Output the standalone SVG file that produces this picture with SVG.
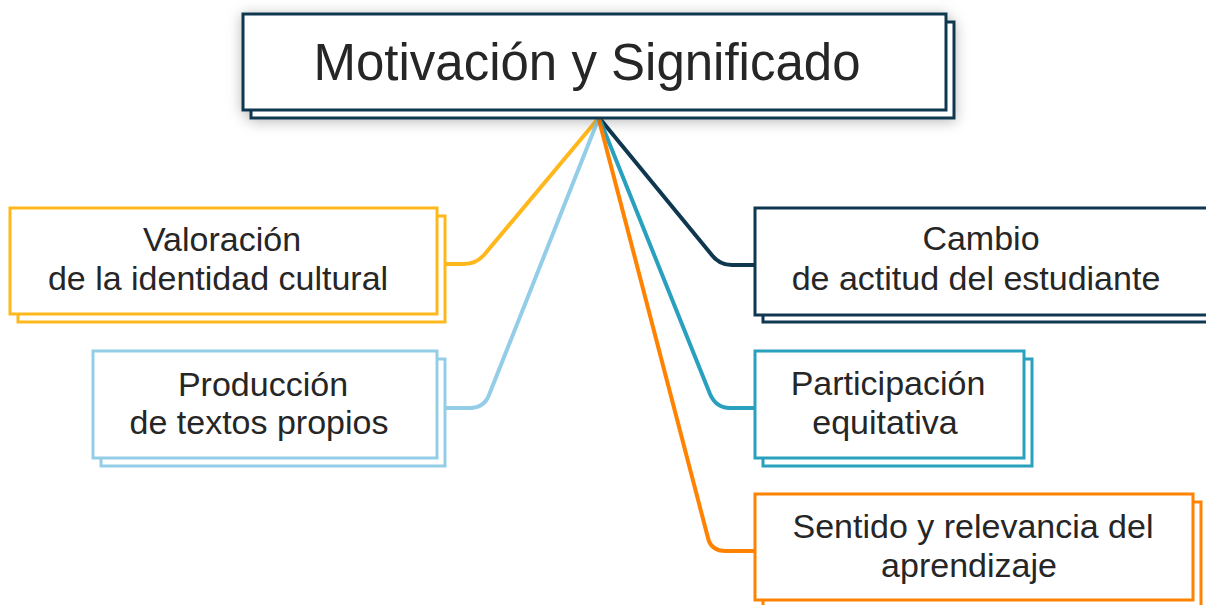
<svg xmlns="http://www.w3.org/2000/svg" width="1206" height="605" viewBox="0 0 1206 605">
<defs>
<filter id="sh" x="-10%" y="-40%" width="120%" height="180%">
<feDropShadow dx="0" dy="2" stdDeviation="7" flood-color="#000" flood-opacity="0.28"/>
</filter>
</defs>
<style>
rect{fill:#fff;stroke-width:3}
.t{font-family:"Liberation Sans",Arial,sans-serif;font-size:34px;fill:#262626;text-anchor:middle}
.title{font-size:51px}
.c{fill:none;stroke-width:4;stroke-linejoin:round;stroke-linecap:round}
.navy{stroke:#0f3850}.yel{stroke:#ffb81c}.lb{stroke:#93cde7}.teal{stroke:#2aa0bf}.org{stroke:#ff8300}
</style>
<rect x="0" y="0" width="1206" height="605" style="fill:#fff;stroke:none"/>
<g id="connectors">
<path class="c yel" d="M597 120 L484 255 Q476 264 464 264 L445 264"/>
<path class="c lb" d="M598 120 L489 395 Q484 408 470 408 L445 408"/>
<path class="c navy" d="M601 120 L711 254 Q719 265 732 265 L755 265"/>
<path class="c teal" d="M600 120 L710 394 Q716 408 730 408 L755 408"/>
<path class="c org" d="M599 120 L708 538 Q711 551 726 551 L755 551"/>
</g>
<g id="main">
<g filter="url(#sh)">
<rect class="navy" x="251" y="22" width="703" height="96"/>
<rect class="navy" x="243" y="14" width="703" height="96"/>
</g>
<text class="t title" x="587" y="80">Motivación y Significado</text>
</g>
<g id="valoracion">
<rect class="yel" x="18" y="216" width="427" height="106"/>
<rect class="yel" x="10" y="208" width="427" height="106"/>
<text class="t" x="222" y="251">Valoración</text>
<text class="t" x="218" y="290">de la identidad cultural</text>
</g>
<g id="produccion">
<rect class="lb" x="101" y="359" width="344" height="107"/>
<rect class="lb" x="93" y="351" width="344" height="107"/>
<text class="t" x="263" y="396">Producción</text>
<text class="t" x="259" y="434">de textos propios</text>
</g>
<g id="cambio">
<rect class="navy" x="763" y="216" width="460" height="106"/>
<rect class="navy" x="755" y="208" width="460" height="107"/>
<text class="t" x="981" y="250">Cambio</text>
<text class="t" x="976" y="290">de actitud del estudiante</text>
</g>
<g id="participacion">
<rect class="teal" x="763" y="359" width="269" height="107"/>
<rect class="teal" x="755" y="351" width="269" height="107"/>
<text class="t" x="888" y="395">Participación</text>
<text class="t" x="885" y="434">equitativa</text>
</g>
<g id="sentido">
<rect class="org" x="763" y="502" width="438" height="108"/>
<rect class="org" x="755" y="494" width="438" height="106"/>
<text class="t" x="973" y="538">Sentido y relevancia del</text>
<text class="t" x="969" y="577">aprendizaje</text>
</g>
</svg>
